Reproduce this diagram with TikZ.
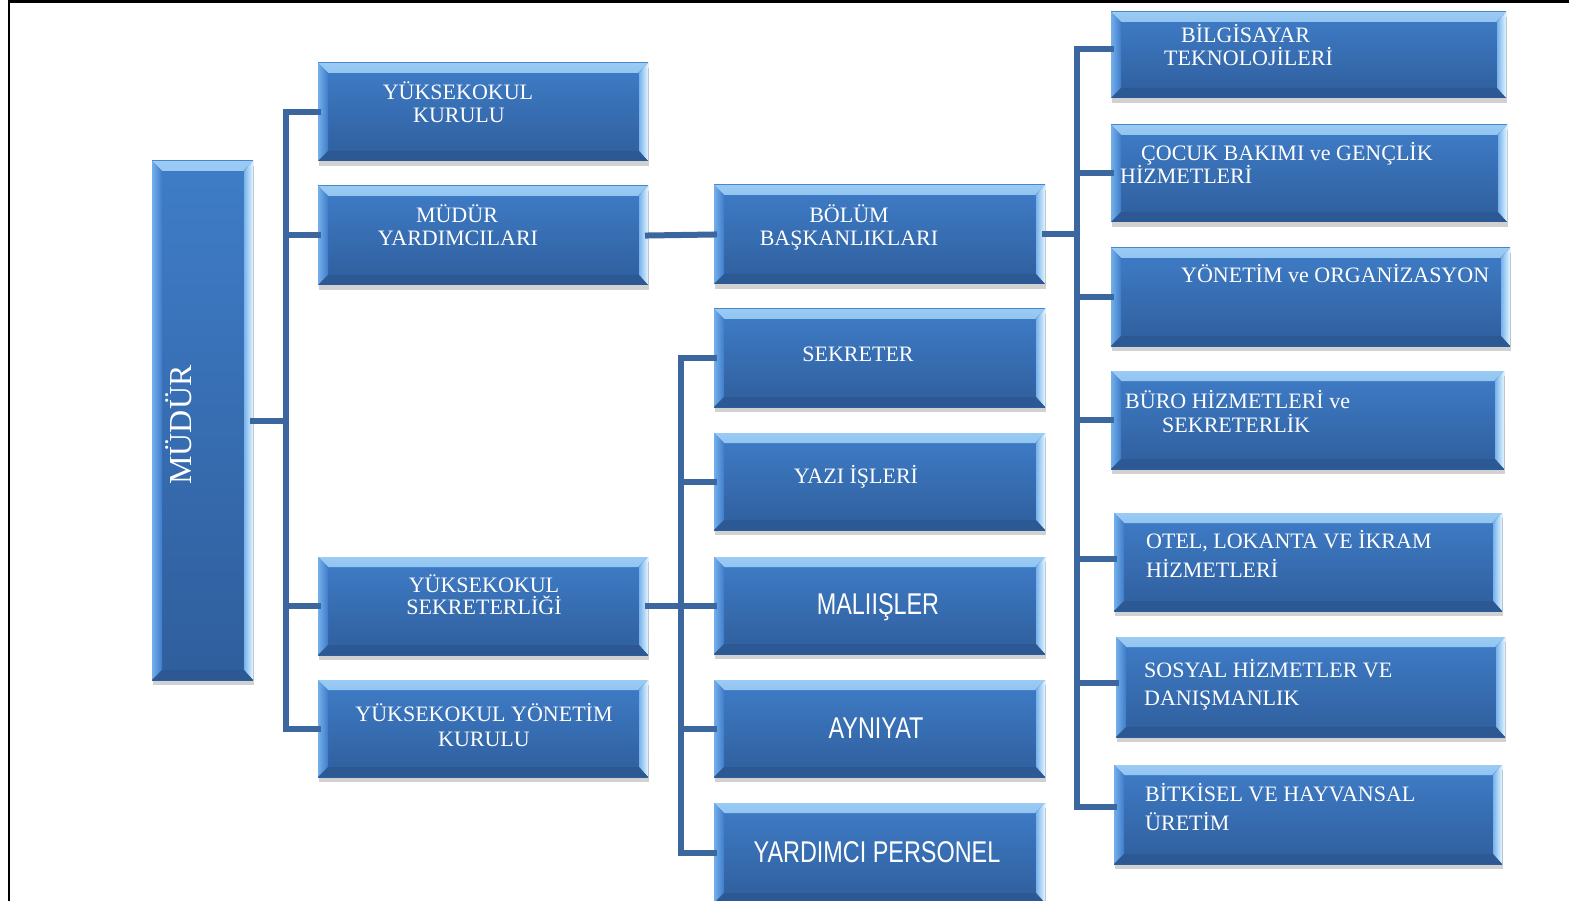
\documentclass[tikz,border=0pt]{standalone}
\usepackage{fontspec}
\setmainfont{Liberation Serif}
\newfontfamily\nsans[FakeStretch=0.78]{Liberation Sans}
\usetikzlibrary{calc,shadows}
\definecolor{lncol}{HTML}{3B669E}
\definecolor{facetop}{HTML}{3F7DC8}
\definecolor{facebot}{HTML}{2F5E9C}
\definecolor{bvtopA}{HTML}{9ACBF4}
\definecolor{bvtopB}{HTML}{4C8AD7}
\definecolor{bvleftA}{HTML}{74AEEB}
\definecolor{bvleftB}{HTML}{3F7CC8}
\definecolor{bvrightA}{HTML}{78B2EC}
\definecolor{bvrightB}{HTML}{E2F6FF}
\definecolor{bvbot}{HTML}{2C5893}
\tikzset{
  bev/.style={rectangle, inner sep=0pt, outer sep=0pt, top color=facetop, bottom color=facebot,
    drop shadow={shadow xshift=1pt, shadow yshift=-5pt, opacity=0.18, fill=black},
    path picture={
      \shade[top color=bvtopA, bottom color=bvtopB]
        (path picture bounding box.north west) -- (path picture bounding box.north east)
        -- ([shift={(-10pt,-10pt)}]path picture bounding box.north east)
        -- ([shift={(10pt,-10pt)}]path picture bounding box.north west) -- cycle;
      \shade[left color=bvleftA, right color=bvleftB]
        (path picture bounding box.north west) -- ([shift={(10pt,-10pt)}]path picture bounding box.north west)
        -- ([shift={(10pt,10pt)}]path picture bounding box.south west) -- (path picture bounding box.south west) -- cycle;
      \shade[left color=bvrightA, right color=bvrightB]
        (path picture bounding box.north east) -- ([shift={(-9pt,-10pt)}]path picture bounding box.north east)
        -- ([shift={(-9pt,10pt)}]path picture bounding box.south east) -- (path picture bounding box.south east) -- cycle;
      \fill[bvbot]
        (path picture bounding box.south west) -- ([shift={(10pt,10pt)}]path picture bounding box.south west)
        -- ([shift={(-9pt,10pt)}]path picture bounding box.south east) -- (path picture bounding box.south east) -- cycle;
    }},
  conn/.style={draw=lncol, line width=6pt, line cap=rect},
  txt/.style={text=white, inner sep=0pt, font=\fontsize{22}{24}\selectfont},
  stxt/.style={text=white, inner sep=0pt, font=\nsans\fontsize{30}{32}\selectfont},
}
\newcommand\bbox[5]{\node[bev, minimum width={(#4-#2)*1pt}, minimum height={(#5-#3)*1pt}] (#1) at ({(#2+#4)/2},{(#3+#5)/2}) {};}
\begin{document}
\begin{tikzpicture}[x=1pt,y=-1pt]
\useasboundingbox (0,0) rectangle (1569,901);
\begin{scope}
\clip (0,0) rectangle (1569,901);
\bbox{mudur}{152}{161}{253}{680}
\bbox{yk}{318}{63}{648}{161}
\bbox{my}{318}{186}{648}{285}
\bbox{ys}{318}{557}{648}{655}
\bbox{yyk}{318}{680}{648}{777}
\bbox{bol}{714}{185}{1045}{284}
\bbox{sek}{714}{309}{1045}{407}
\bbox{yazi}{714}{433}{1045}{530}
\bbox{mali}{714}{557}{1045}{654}
\bbox{ayn}{714}{680}{1045}{777}
\bbox{yrd}{714}{803}{1045}{903}
\bbox{bil}{1111}{12}{1506}{98}
\bbox{coc}{1111}{125}{1507}{222}
\bbox{yon}{1111}{248}{1510}{346}
\bbox{bur}{1111}{371}{1504}{469}
\bbox{otl}{1114}{513}{1502}{611}
\bbox{sos}{1116}{637}{1505}{737}
\bbox{bit}{1114}{765}{1502}{864}

% tree 1
\draw[conn] (mudur.east) -- ++(33,0) coordinate (j1);
\draw[conn] (yk.west) -- (yk.west -| j1) |- (yyk.west);
\draw[conn] (my.west) -- (my.west -| j1);
\draw[conn] (ys.west) -- (ys.west -| j1);
% middle
\draw[conn] (my.east) -- (bol.west);
% tree 2
\draw[conn] (ys.east) -- ++(33,0) coordinate (j2);
\draw[conn] (sek.west) -- (sek.west -| j2) |- (yrd.west);
\draw[conn] (yazi.west) -- (yazi.west -| j2);
\draw[conn] (mali.west) -- (mali.west -| j2);
\draw[conn] (ayn.west) -- (ayn.west -| j2);
% tree 3
\draw[conn] (bol.east) -- ++(32,0) coordinate (j3);
\draw[conn] ([yshift=6pt]bil.west) -- ([yshift=6pt]bil.west -| j3) |- ([yshift=8pt]bit.west);
\draw[conn] (coc.west) -- (coc.west -| j3);
\draw[conn] (yon.west) -- (yon.west -| j3);
\draw[conn] (bur.west) -- (bur.west -| j3);
\draw[conn] ([yshift=3pt]otl.west) -- ([yshift=3pt]otl.west -| j3);
\draw[conn] ([yshift=4pt]sos.west) -- ([yshift=4pt]sos.west -| j3);
\end{scope}

% texts
\node[txt, rotate=90, font=\fontsize{32}{34}\selectfont] (t0) at (179,425) {MÜDÜR};
\node[txt, anchor=base] (t1a) at (458,100) {YÜKSEKOKUL};
\node[txt, anchor=base] (t1b) at (459,123) {KURULU};
\node[txt, anchor=base] (t2a) at (457,223) {MÜDÜR};
\node[txt, anchor=base] (t2b) at (458,246) {YARDIMCILARI};
\node[txt, anchor=base] (t3a) at (484,592) {YÜKSEKOKUL};
\node[txt, anchor=base] (t3b) at (484,614) {SEKRETERLİĞİ};
\node[txt, anchor=base] (t4a) at (484,721) {YÜKSEKOKUL YÖNETİM};
\node[txt, anchor=base] (t4b) at (484,746) {KURULU};
\node[txt, anchor=base] (t5a) at (849,223) {BÖLÜM};
\node[txt, anchor=base] (t5b) at (849,246) {BAŞKANLIKLARI};
\node[txt, anchor=base] (t6) at (858,361) {SEKRETER};
\node[txt, anchor=base] (t7) at (856,483) {YAZI İŞLERİ};
\node[stxt, anchor=base] (t8) at (878,614) {MALIIŞLER};
\node[stxt, anchor=base] (t9) at (876,738) {AYNIYAT};
\node[stxt, anchor=base] (t10) at (877,862) {YARDIMCI PERSONEL};
\node[txt, anchor=base west] (t11a) at (1181,43) {BİLGİSAYAR};
\node[txt, anchor=base west] (t11b) at (1164,66) {TEKNOLOJİLERİ};
\node[txt, anchor=base west] (t12a) at (1141,161) {ÇOCUK BAKIMI ve GENÇLİK};
\node[txt, anchor=base west] (t12b) at (1120,184) {HİZMETLERİ};
\node[txt, anchor=base west] (t13) at (1181,283) {YÖNETİM ve ORGANİZASYON};
\node[txt, anchor=base west] (t14a) at (1125,408) {BÜRO HİZMETLERİ ve};
\node[txt, anchor=base west] (t14b) at (1162,432) {SEKRETERLİK};
\node[txt, anchor=base west] (t15a) at (1146,548) {OTEL, LOKANTA VE İKRAM};
\node[txt, anchor=base west] (t15b) at (1146,577) {HİZMETLERİ};
\node[txt, anchor=base west] (t16a) at (1144,677) {SOSYAL HİZMETLER VE};
\node[txt, anchor=base west] (t16b) at (1144,705) {DANIŞMANLIK};
\node[txt, anchor=base west] (t17a) at (1145,801) {BİTKİSEL VE HAYVANSAL};
\node[txt, anchor=base west] (t17b) at (1145,830) {ÜRETİM};

% frame
\draw[black, line width=2.5pt] (9,903) -- (9,1.5) -- (1570,1.5);
\end{tikzpicture}
\end{document}
